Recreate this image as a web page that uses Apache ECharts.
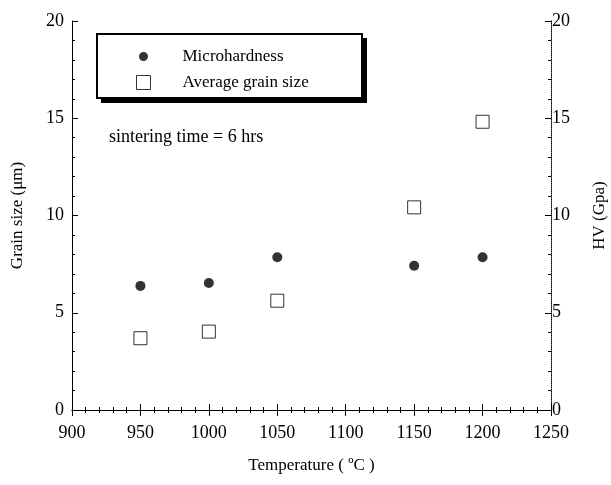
<!DOCTYPE html>
<html><head><meta charset="utf-8">
<script src="https://cdn.jsdelivr.net/npm/echarts@6/dist/echarts.min.js"></script>
<style>html,body{margin:0;padding:0;background:#fff}#c{width:611px;height:485px}</style>
</head><body><div id="c"></div>
<script>
const temperatures = [950, 1000, 1050, 1150, 1200];
const microhardness = [6.38, 6.53, 7.85, 7.42, 7.85];
const grainSize = [3.69, 4.03, 5.62, 10.42, 14.82];
const xTicks = [900, 950, 1000, 1050, 1100, 1150, 1200, 1250];
const yTicks = [0, 5, 10, 15, 20];

const FONT = '"Liberation Serif", "Times New Roman", serif';
const chart = echarts.init(document.getElementById('c'), null, {renderer: 'canvas'});
const plain = v => String(v);
const axisCommon = {
  type: 'value',
  axisLine: {show: true, onZero: false, lineStyle: {color: '#000', width: 1}},
  axisTick: {show: true, inside: true, length: 6, lineStyle: {color: '#000'}},
  minorTick: {show: true, splitNumber: 5, length: 3, lineStyle: {color: '#000'}},
  splitLine: {show: false},
  axisLabel: {color: '#000', fontFamily: FONT, fontSize: 18, formatter: plain}
};
chart.setOption({
  animation: false,
  backgroundColor: '#fff',
  grid: {left: 72, right: 60, top: 21, bottom: 75, containLabel: false, outerBoundsMode: 'none'},
  xAxis: [
    Object.assign({}, axisCommon, {position: 'bottom', min: xTicks[0], max: xTicks[xTicks.length-1], interval: 50,
      name: 'Temperature ( ºC )', nameLocation: 'middle', nameGap: 47,
      nameTextStyle: {color: '#000', fontFamily: FONT, fontSize: 17},
      axisLabel: {color: '#000', fontFamily: FONT, fontSize: 18, margin: 14, formatter: plain}}),
    Object.assign({}, axisCommon, {position: 'top', min: xTicks[0], max: xTicks[xTicks.length-1], interval: 50,
      axisLine: {show: true, lineStyle: {color: '#000', width: 1, type: 'dotted'}},
      axisLabel: {show: false}})
  ],
  yAxis: [
    Object.assign({}, axisCommon, {position: 'left', min: yTicks[0], max: yTicks[yTicks.length-1], interval: 5,
      name: 'Grain size (μm)', nameLocation: 'middle', nameGap: 46,
      nameTextStyle: {color: '#000', fontFamily: FONT, fontSize: 17},
      axisLabel: {color: '#000', fontFamily: FONT, fontSize: 18, margin: 8, formatter: plain}}),
    Object.assign({}, axisCommon, {position: 'right', min: yTicks[0], max: yTicks[yTicks.length-1], interval: 5,
      axisLine: {show: true, lineStyle: {color: '#000', width: 1, type: 'dotted'}},
      name: 'HV (Gpa)', nameLocation: 'middle', nameGap: 40, nameRotate: 90,
      nameTextStyle: {color: '#000', fontFamily: FONT, fontSize: 17},
      axisLabel: {color: '#000', fontFamily: FONT, fontSize: 18, margin: 1, formatter: plain}})
  ],
  legend: {
    orient: 'vertical', left: 136, top: 48, itemWidth: 14, itemHeight: 14, itemGap: 9, padding: 0,
    backgroundColor: 'transparent', z: 10,
    textStyle: {color: '#000', fontFamily: FONT, fontSize: 17, padding: [0, 0, 0, 27]},
    data: [
      {name: 'Microhardness', icon: 'path://M0,0M14,14M7,2.5A4.5,4.5,0,1,1,6.99,2.5Z', itemStyle: {color: '#000', borderWidth: 0}},
      {name: 'Average grain size', icon: 'path://M1,1L13,1L13,13L1,13Z', itemStyle: {color: '#fff', borderColor: '#000', borderWidth: 1}}
    ]
  },
  graphic: [
    {type: 'rect', z: 1, shape: {x: 101, y: 38, width: 266, height: 65}, style: {fill: '#000'}},
    {type: 'rect', z: 2, shape: {x: 97, y: 34, width: 265, height: 64}, style: {fill: '#fff', stroke: '#000', lineWidth: 2}},
    {type: 'text', z: 3, left: 109, top: 128, style: {text: 'sintering time = 6 hrs', font: '18px ' + FONT, fill: '#000'}}
  ],
  series: [
    {name: 'Microhardness', type: 'scatter', xAxisIndex: 0, yAxisIndex: 1, symbol: 'circle', symbolSize: 10,
      itemStyle: {color: '#000'}, data: temperatures.map((t, i) => [t, microhardness[i]])},
    {name: 'Average grain size', type: 'scatter', xAxisIndex: 0, yAxisIndex: 0, symbol: 'rect', symbolSize: 13,
      itemStyle: {color: '#fff', borderColor: '#000', borderWidth: 1}, data: temperatures.map((t, i) => [t, grainSize[i]])}
  ]
});
</script></body></html>
